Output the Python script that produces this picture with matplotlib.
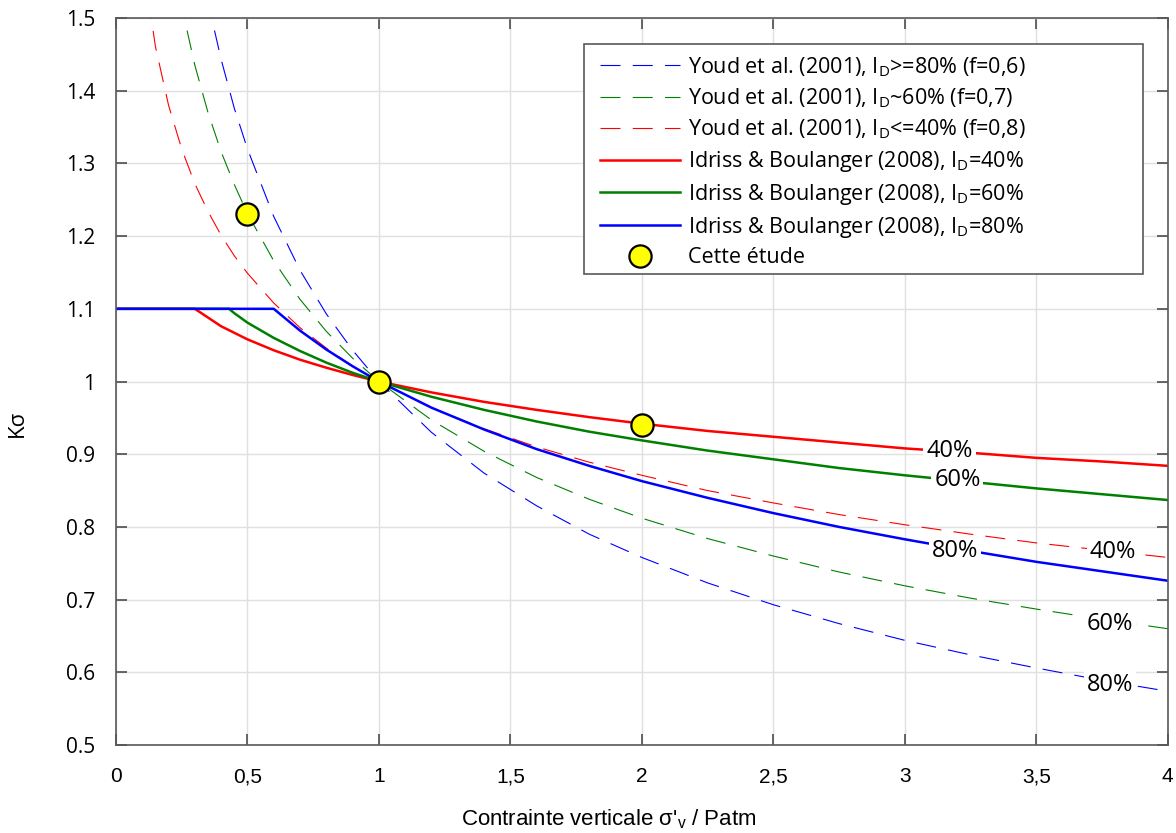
import matplotlib
matplotlib.use('Agg')
import matplotlib.pyplot as plt
from matplotlib.patches import Rectangle

# contrainte normalisee sigma'v / Patm
x_youd = [0.1, 0.15, 0.2, 0.25, 0.3, 0.35, 0.4, 0.45, 0.5, 0.6, 0.7, 0.8, 0.9, 1.0,
          1.2, 1.4, 1.6, 1.8, 2.0, 2.25, 2.5, 2.75, 3.0, 3.25, 3.5, 3.75, 4.0]

# Youd et al. (2001)
k_youd80 = [2.512, 2.136, 1.904, 1.741, 1.619, 1.522, 1.443, 1.376, 1.320, 1.227, 1.153, 1.093, 1.043, 1.0,
            0.930, 0.874, 0.829, 0.790, 0.758, 0.723, 0.693, 0.667, 0.644, 0.624, 0.606, 0.589, 0.574]
k_youd60 = [1.995, 1.767, 1.621, 1.516, 1.435, 1.370, 1.316, 1.271, 1.231, 1.166, 1.113, 1.069, 1.032, 1.0,
            0.947, 0.904, 0.868, 0.838, 0.812, 0.784, 0.760, 0.738, 0.719, 0.702, 0.687, 0.673, 0.660]
k_youd40 = [1.585, 1.461, 1.380, 1.320, 1.272, 1.234, 1.201, 1.173, 1.149, 1.108, 1.074, 1.046, 1.021, 1.0,
            0.964, 0.935, 0.910, 0.889, 0.871, 0.850, 0.833, 0.817, 0.803, 0.790, 0.778, 0.768, 0.758]

# Idriss & Boulanger (2008), plafonne a 1.1
x_ib40 = [0, 0.30, 0.35, 0.4, 0.45, 0.5, 0.6, 0.7, 0.8, 0.9, 1.0,
          1.2, 1.4, 1.6, 1.8, 2.0, 2.25, 2.5, 2.75, 3.0, 3.25, 3.5, 3.75, 4.0]
k_ib40 = [1.1, 1.1, 1.088, 1.076, 1.067, 1.058, 1.043, 1.030, 1.019, 1.009, 1.0,
          0.985, 0.972, 0.961, 0.951, 0.942, 0.932, 0.924, 0.916, 0.908, 0.902, 0.895, 0.890, 0.884]
x_ib60 = [0, 0.43, 0.45, 0.5, 0.6, 0.7, 0.8, 0.9, 1.0,
          1.2, 1.4, 1.6, 1.8, 2.0, 2.25, 2.5, 2.75, 3.0, 3.25, 3.5, 3.75, 4.0]
k_ib60 = [1.1, 1.1, 1.094, 1.081, 1.060, 1.042, 1.026, 1.012, 1.0,
          0.979, 0.961, 0.945, 0.931, 0.919, 0.905, 0.893, 0.881, 0.871, 0.862, 0.853, 0.845, 0.837]
x_ib80 = [0, 0.6, 0.7, 0.8, 0.9, 1.0,
          1.2, 1.4, 1.6, 1.8, 2.0, 2.25, 2.5, 2.75, 3.0, 3.25, 3.5, 3.75, 4.0]
k_ib80 = [1.1, 1.1, 1.070, 1.044, 1.021, 1.0,
          0.964, 0.934, 0.907, 0.884, 0.863, 0.840, 0.819, 0.800, 0.783, 0.767, 0.752, 0.739, 0.726]

# points de cette etude
x_etude = [0.5, 1.0, 2.0]
k_etude = [1.23, 1.0, 0.94]

xticks = [0, 0.5, 1, 1.5, 2, 2.5, 3, 3.5, 4]
xticklabels = ['0', '0,5', '1', '1,5', '2', '2,5', '3', '3,5', '4']
yticks = [0.5, 0.6, 0.7, 0.8, 0.9, 1, 1.1, 1.2, 1.3, 1.4, 1.5]
yticklabels = ['0.5', '0.6', '0.7', '0.8', '0.9', '1', '1.1', '1.2', '1.3', '1.4', '1.5']

plt.rcParams['font.family'] = ['Open Sans', 'DejaVu Sans']
plt.rcParams['mathtext.default'] = 'regular'
arial = ['Liberation Sans', 'DejaVu Sans']

bleu, vert, rouge = (0, 0, 1), (0, 0.5, 0), (1, 0, 0)
tirets = (18, 11)

fig = plt.figure(figsize=(11.76, 8.33), dpi=100)
ax = fig.add_axes([0.0986, 0.1056, 0.8944, 0.8728])

ax.plot(x_youd, k_youd80, color=bleu, lw=0.8, dashes=tirets, label='Youd et al. (2001), I$_D$>=80% (f=0,6)')
ax.plot(x_youd, k_youd60, color=vert, lw=0.8, dashes=tirets, label='Youd et al. (2001), I$_D$~60% (f=0,7)')
ax.plot(x_youd, k_youd40, color=rouge, lw=0.8, dashes=tirets, label='Youd et al. (2001), I$_D$<=40% (f=0,8)')
ax.plot(x_ib40, k_ib40, color=rouge, lw=1.8, label='Idriss & Boulanger (2008), I$_D$=40%')
ax.plot(x_ib60, k_ib60, color=vert, lw=1.8, label='Idriss & Boulanger (2008), I$_D$=60%')
ax.plot(x_ib80, k_ib80, color=bleu, lw=1.8, label='Idriss & Boulanger (2008), I$_D$=80%')
ax.plot(x_etude, k_etude, ls='none', marker='o', ms=16, mfc='yellow', mec='black', mew=1.6,
        zorder=5, label='Cette étude')

# etiquettes sur les courbes
etiq = dict(fontsize=17, ha='center', va='center', zorder=4,
            bbox=dict(boxstyle='square,pad=0.12', fc='white', ec='none'))
ax.text(3.17, 0.905, '40%', **etiq)
ax.text(3.20, 0.864, '60%', **etiq)
ax.text(3.19, 0.767, '80%', **etiq)
ax.text(3.79, 0.765, '40%', **etiq)
ax.text(3.78, 0.667, '60%', **etiq)
ax.text(3.78, 0.582, '80%', **etiq)

ax.set_xlim(0, 4)
ax.set_ylim(0.5, 1.5)
ax.set_xticks(xticks)
ax.set_xticklabels(xticklabels, fontsize=15, family=arial)
ax.set_yticks(yticks)
ax.set_yticklabels(yticklabels, fontsize=15)
ax.tick_params(direction='in', length=8, width=1.2, color='0.3', top=True, right=True)
ax.tick_params(axis='x', pad=16)
ax.tick_params(axis='y', pad=15)
ax.grid(color='0.88', lw=1.0)
ax.set_axisbelow(True)
for s in ax.spines.values():
    s.set_color('0.35')
    s.set_linewidth(1.2)

ax.set_xlabel("Contrainte verticale σ'$_v$ / Patm", fontsize=16, family=arial)
ax.xaxis.set_label_coords(0.4686, -0.086)
ax.set_ylabel('Kσ', fontsize=16)
ax.yaxis.set_label_coords(-0.0837, 0.443)

# cadre de legende, plus large que le texte a droite
cadre = Rectangle((0.4449, 0.6479), 0.5313, 0.3163, transform=ax.transAxes,
                  fc='white', ec='0.35', lw=1.2, zorder=4.8)
ax.add_patch(cadre)
leg = ax.legend(loc='upper left', bbox_to_anchor=(0.4601, 0.9491), fontsize=15.5,
                handlelength=3.7, handletextpad=0.4, labelspacing=0.36,
                borderpad=0, frameon=False, borderaxespad=0)

plt.savefig('out.png', dpi=100)
